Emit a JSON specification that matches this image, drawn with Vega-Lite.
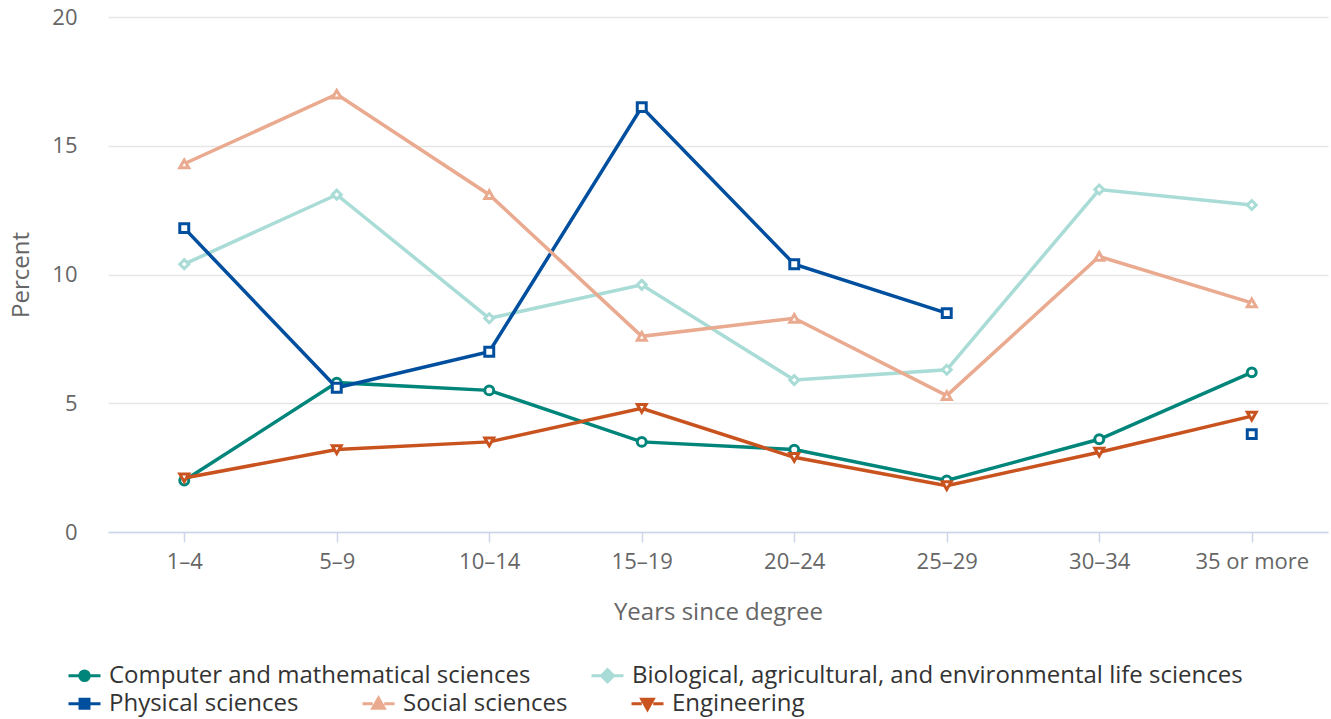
{
  "$schema": "https://vega.github.io/schema/vega-lite/v6.json",
  "autosize": {"type": "none"},
  "padding": {"left": 108, "top": 17, "right": 3, "bottom": 187},
  "width": 1220,
  "height": 515,
  "background": "white",
  "config": {
    "view": {"stroke": null},
    "font": "Open Sans",
    "axis": {"labelFont": "Open Sans", "titleFont": "Open Sans"},
    "legend": {"labelFont": "Open Sans"}
  },
  "data": {
    "values": [
      {"years": "1–4", "series": "Computer and mathematical sciences", "value": 2.0},
      {"years": "5–9", "series": "Computer and mathematical sciences", "value": 5.8},
      {"years": "10–14", "series": "Computer and mathematical sciences", "value": 5.5},
      {"years": "15–19", "series": "Computer and mathematical sciences", "value": 3.5},
      {"years": "20–24", "series": "Computer and mathematical sciences", "value": 3.2},
      {"years": "25–29", "series": "Computer and mathematical sciences", "value": 2.0},
      {"years": "30–34", "series": "Computer and mathematical sciences", "value": 3.6},
      {"years": "35 or more", "series": "Computer and mathematical sciences", "value": 6.2},
      {"years": "1–4", "series": "Biological, agricultural, and environmental life sciences", "value": 10.4},
      {"years": "5–9", "series": "Biological, agricultural, and environmental life sciences", "value": 13.1},
      {"years": "10–14", "series": "Biological, agricultural, and environmental life sciences", "value": 8.3},
      {"years": "15–19", "series": "Biological, agricultural, and environmental life sciences", "value": 9.6},
      {"years": "20–24", "series": "Biological, agricultural, and environmental life sciences", "value": 5.9},
      {"years": "25–29", "series": "Biological, agricultural, and environmental life sciences", "value": 6.3},
      {"years": "30–34", "series": "Biological, agricultural, and environmental life sciences", "value": 13.3},
      {"years": "35 or more", "series": "Biological, agricultural, and environmental life sciences", "value": 12.7},
      {"years": "1–4", "series": "Physical sciences", "value": 11.8},
      {"years": "5–9", "series": "Physical sciences", "value": 5.6},
      {"years": "10–14", "series": "Physical sciences", "value": 7.0},
      {"years": "15–19", "series": "Physical sciences", "value": 16.5},
      {"years": "20–24", "series": "Physical sciences", "value": 10.4},
      {"years": "25–29", "series": "Physical sciences", "value": 8.5},
      {"years": "30–34", "series": "Physical sciences", "value": null},
      {"years": "35 or more", "series": "Physical sciences", "value": 3.8},
      {"years": "1–4", "series": "Social sciences", "value": 14.3},
      {"years": "5–9", "series": "Social sciences", "value": 17.0},
      {"years": "10–14", "series": "Social sciences", "value": 13.1},
      {"years": "15–19", "series": "Social sciences", "value": 7.6},
      {"years": "20–24", "series": "Social sciences", "value": 8.3},
      {"years": "25–29", "series": "Social sciences", "value": 5.3},
      {"years": "30–34", "series": "Social sciences", "value": 10.7},
      {"years": "35 or more", "series": "Social sciences", "value": 8.9},
      {"years": "1–4", "series": "Engineering", "value": 2.1},
      {"years": "5–9", "series": "Engineering", "value": 3.2},
      {"years": "10–14", "series": "Engineering", "value": 3.5},
      {"years": "15–19", "series": "Engineering", "value": 4.8},
      {"years": "20–24", "series": "Engineering", "value": 2.9},
      {"years": "25–29", "series": "Engineering", "value": 1.8},
      {"years": "30–34", "series": "Engineering", "value": 3.1},
      {"years": "35 or more", "series": "Engineering", "value": 4.5}
    ]
  },
  "encoding": {
    "x": {
      "field": "years", "type": "ordinal",
      "sort": ["1–4", "5–9", "10–14", "15–19", "20–24", "25–29", "30–34", "35 or more"],
      "scale": {"type": "point", "padding": 0.5},
      "axis": {
        "title": "Years since degree", "labelAngle": 0, "labelFontSize": 22, "labelColor": "#666666",
        "titleFontSize": 24, "titleFontWeight": "normal", "titleColor": "#666666", "titlePadding": 28,
        "domainColor": "#ccd6eb", "domainWidth": 1.5, "tickColor": "#ccd6eb", "tickWidth": 1.5, "tickSize": 10,
        "labelPadding": 9, "grid": false
      }
    },
    "y": {
      "field": "value", "type": "quantitative",
      "scale": {"domain": [0, 20], "nice": false},
      "axis": {
        "title": "Percent", "values": [0, 5, 10, 15, 20], "labelFontSize": 22, "labelColor": "#666666",
        "titleFontSize": 24, "titleFontWeight": "normal", "titleColor": "#666666", "titlePadding": 18,
        "domain": false, "ticks": false, "tickSize": 0, "labelPadding": 31,
        "grid": true, "gridColor": "#e6e6e6", "gridWidth": 1.5
      }
    }
  },
  "layer": [
    {
      "transform": [{"filter": {"field": "series", "oneOf": ["Computer and mathematical sciences", "Biological, agricultural, and environmental life sciences"]}}],
      "layer": [
        {
          "mark": {"type": "line", "strokeWidth": 3.5, "invalid": "break-paths-filter-domains"},
          "encoding": {
            "color": {
              "field": "series", "type": "nominal",
              "scale": {"domain": ["Biological, agricultural, and environmental life sciences", "Computer and mathematical sciences"], "range": ["#a9dcd6", "#00857a"]},
              "legend": {
                "orient": "none", "legendX": -41, "legendY": 641, "direction": "horizontal", "columns": 2,
                "title": null, "labelFontSize": 24, "labelColor": "#333333", "labelOffset": 7,
                "columnPadding": 54, "symbolSize": 1024, "symbolStrokeWidth": 3, "symbolFillColor": "white", "padding": 0, "labelLimit": 800,
                "values": ["Computer and mathematical sciences", "Biological, agricultural, and environmental life sciences"]
              }
            },
            "shape": {
              "field": "series", "type": "nominal",
              "scale": {"domain": ["Biological, agricultural, and environmental life sciences", "Computer and mathematical sciences"],
                        "range": ["M-1,0H-0.38M0.38,0H1M-0.38,0L0,-0.38L0.38,0L0,0.38Z", "M-1,0H-0.3M0.3,0H1M0.3,0A0.3,0.3 0 1 1 -0.3,0A0.3,0.3 0 1 1 0.3,0Z"]},
              "legend": {
                "orient": "none", "legendX": -41, "legendY": 641, "direction": "horizontal", "columns": 2,
                "title": null, "labelFontSize": 24, "labelColor": "#333333", "labelOffset": 7,
                "columnPadding": 54, "symbolSize": 1024, "symbolStrokeWidth": 3, "symbolFillColor": "white", "padding": 0, "labelLimit": 800,
                "values": ["Computer and mathematical sciences", "Biological, agricultural, and environmental life sciences"]
              }
            }
          }
        },
        {
          "mark": {"type": "point", "filled": false, "fill": "white", "strokeWidth": 3, "size": 80, "opacity": 1},
          "encoding": {
            "color": {
              "field": "series", "type": "nominal",
              "scale": {"domain": ["Biological, agricultural, and environmental life sciences", "Computer and mathematical sciences"], "range": ["#a9dcd6", "#00857a"]},
              "legend": null
            },
            "shape": {
              "field": "series", "type": "nominal",
              "scale": {"domain": ["Biological, agricultural, and environmental life sciences", "Computer and mathematical sciences"], "range": ["diamond", "circle"]},
              "legend": null
            }
          }
        }
      ],
      "resolve": {"scale": {"shape": "independent", "color": "independent"}}
    },
    {
      "transform": [{"filter": {"field": "series", "oneOf": ["Physical sciences", "Social sciences", "Engineering"]}}],
      "layer": [
        {
          "mark": {"type": "line", "strokeWidth": 3.5, "invalid": "break-paths-filter-domains"},
          "encoding": {
            "color": {
              "field": "series", "type": "nominal",
              "scale": {"domain": ["Social sciences", "Physical sciences", "Engineering"], "range": ["#eaaa8f", "#004f9f", "#c9531f"]},
              "legend": {
                "orient": "none", "legendX": -41, "legendY": 669, "direction": "horizontal", "columns": 3,
                "title": null, "labelFontSize": 24, "labelColor": "#333333", "labelOffset": 7,
                "columnPadding": 57, "symbolSize": 1024, "symbolStrokeWidth": 3, "symbolFillColor": "white", "padding": 0, "labelLimit": 800,
                "values": ["Physical sciences", "Social sciences", "Engineering"]
              }
            },
            "shape": {
              "field": "series", "type": "nominal",
              "scale": {"domain": ["Social sciences", "Physical sciences", "Engineering"],
                        "range": ["M-1,0H-0.36M0.36,0H1M-0.36,0.28L0,-0.36L0.36,0.28Z", "M-1,0H-0.28M0.28,0H1M-0.28,-0.28H0.28V0.28H-0.28Z", "M-1,0H-0.36M0.36,0H1M-0.36,-0.28L0,0.36L0.36,-0.28Z"]},
              "legend": {
                "orient": "none", "legendX": -41, "legendY": 669, "direction": "horizontal", "columns": 3,
                "title": null, "labelFontSize": 24, "labelColor": "#333333", "labelOffset": 7,
                "columnPadding": 57, "symbolSize": 1024, "symbolStrokeWidth": 3, "symbolFillColor": "white", "padding": 0, "labelLimit": 800,
                "values": ["Physical sciences", "Social sciences", "Engineering"]
              }
            }
          }
        },
        {
          "mark": {"type": "point", "filled": false, "fill": "white", "strokeWidth": 3, "size": 80, "opacity": 1},
          "encoding": {
            "color": {
              "field": "series", "type": "nominal",
              "scale": {"domain": ["Social sciences", "Physical sciences", "Engineering"], "range": ["#eaaa8f", "#004f9f", "#c9531f"]},
              "legend": null
            },
            "shape": {
              "field": "series", "type": "nominal",
              "scale": {"domain": ["Social sciences", "Physical sciences", "Engineering"], "range": ["triangle-up", "square", "triangle-down"]},
              "legend": null
            }
          }
        }
      ],
      "resolve": {"scale": {"shape": "independent", "color": "independent"}}
    }
  ],
  "resolve": {"scale": {"color": "independent", "shape": "independent"}}
}
